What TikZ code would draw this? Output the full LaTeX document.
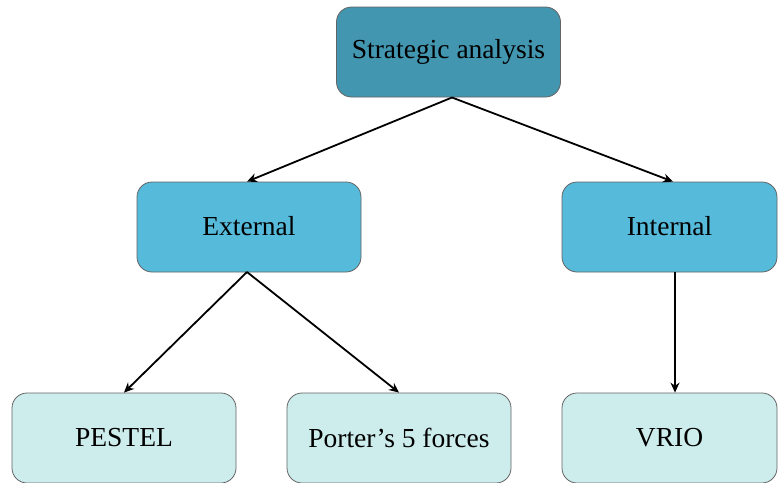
\documentclass[tikz,border=0pt]{standalone}
\usepackage{fontspec}
\setmainfont{Liberation Serif}
\usetikzlibrary{arrows.meta}
\definecolor{topc}{RGB}{66,150,176}
\definecolor{midc}{RGB}{86,186,218}
\definecolor{lowc}{RGB}{205,236,236}
\definecolor{edgec}{RGB}{100,100,100}
\tikzset{
  box/.style={draw=edgec, line width=0.8pt, rounded corners=15pt, minimum width=224pt, minimum height=90pt, inner sep=0pt, font=\fontsize{27.5}{32}\selectfont, text=black},
  topbox/.style={box, fill=topc},
  midbox/.style={box, fill=midc},
  lowbox/.style={box, fill=lowc},
  conn/.style={draw=black, line width=1.8pt, -{Stealth[length=10pt,width=9pt]}}
}
\begin{document}
\begin{tikzpicture}[x=1pt,y=1pt]
\useasboundingbox (0,0) rectangle (778,-482);
\node[topbox] (sa) at (448.5,-52) {\raisebox{3pt}{Strategic analysis}};
\node[midbox] (ext) at (249,-227) {\raisebox{3pt}{External}};
\node[midbox, minimum width=215pt] (int) at (669.5,-227) {\raisebox{3pt}{Internal}};
\node[lowbox] (pes) at (124,-438) {PESTEL};
\node[lowbox] (por) at (399,-438) {Porter’s 5 forces};
\node[lowbox, minimum width=215pt] (vrio) at (669.5,-438) {VRIO};
\coordinate (saB) at (452,-97.5);
\coordinate (extB) at (247,-272);
\draw[conn] (saB) -- (ext.north -| 247,0);
\draw[conn] (saB) -- (int.north -| 673,0);
\draw[conn] (extB) -- (pes.north -| 124,0);
\draw[conn] (extB) -- (por.north -| 399,0);
\draw[conn] (int.south -| 675,0) -- (vrio.north -| 675,0);
\end{tikzpicture}
\end{document}
